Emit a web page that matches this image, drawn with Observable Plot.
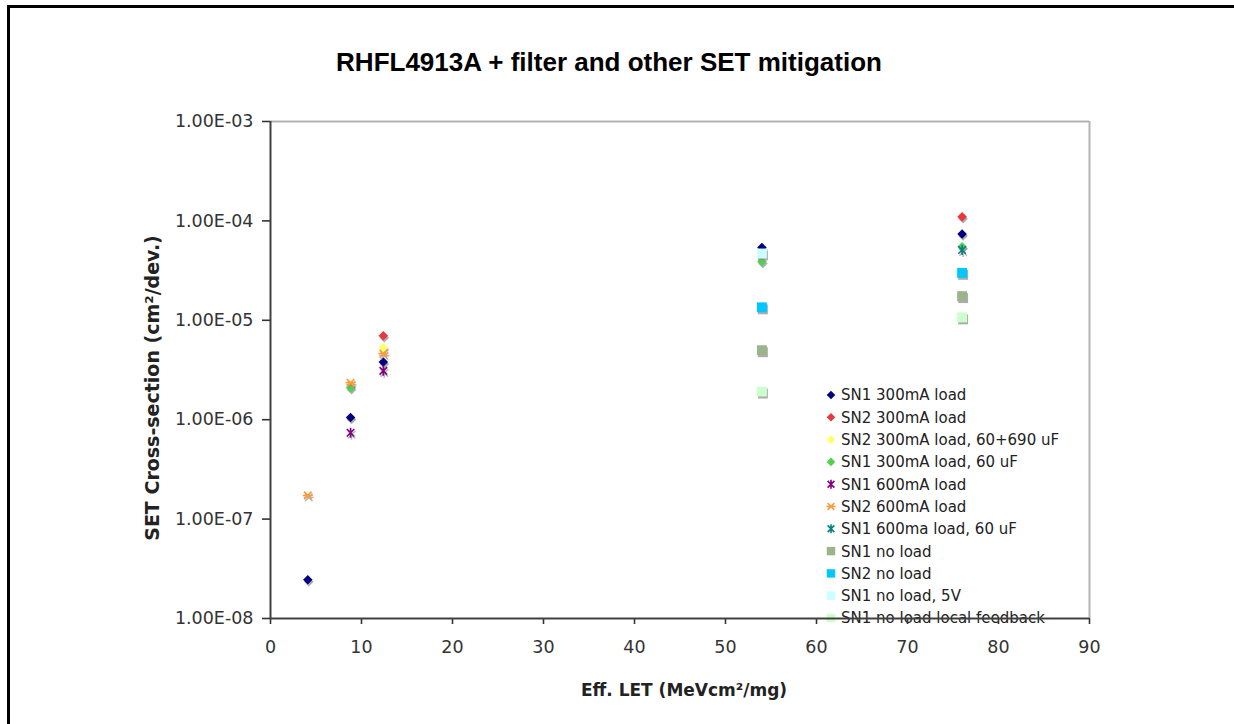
<!DOCTYPE html>
<html><head><meta charset="utf-8">
<script src="https://cdn.jsdelivr.net/npm/d3@7"></script>
<script src="https://cdn.jsdelivr.net/npm/@observablehq/plot@0.6"></script>
<style>
body{margin:0;background:#fff}
#wrap{position:relative;width:1234px;height:724px;overflow:hidden;background:#fff}
#frame{position:absolute;left:7px;top:5px;right:-10px;bottom:-10px;border-left:3px solid #000;border-top:3px solid #000}
#under{position:absolute;left:0;top:0}
#plot{position:absolute;left:0;top:0}
#plot svg{background:transparent}
[aria-label$="axis tick"]{stroke-width:1.6}
.tick line{stroke-width:1.6}
</style></head>
<body><div id="wrap"><div id="frame"></div><svg id="under" width="1234" height="724"></svg><div id="plot"></div></div>
<script>
// ---- data ----
const chartTitle = "RHFL4913A + filter and other SET mitigation";
const xLabel = "Eff. LET (MeVcm²/mg)";
const yLabel = "SET Cross-section (cm²/dev.)";
const xTicks = [0, 10, 20, 30, 40, 50, 60, 70, 80, 90];
const yTicks = [1e-8, 1e-7, 1e-6, 1e-5, 1e-4, 1e-3];
const seriesNames = [
  "SN1 300mA load", "SN2 300mA load", "SN2 300mA load, 60+690 uF", "SN1 300mA load, 60 uF",
  "SN1 600mA load", "SN2 600mA load", "SN1 600ma load, 60 uF", "SN1 no load", "SN2 no load",
  "SN1 no load, 5V", "SN1 no load local feedback"
];
const seriesColors = ["#000080", "#e8383d", "#ffff66", "#4fd34f", "#800080", "#ff9a3c", "#008080",
  "#9bb48a", "#00c8ff", "#ccffff", "#ccffcc"];
const seriesMarkers = ["diamond", "diamond", "diamond", "diamond", "xv", "xh", "xv",
  "square", "square", "square", "square"];
const seriesX = [
  [4.1, 8.8, 12.4, 54, 76],
  [12.4, 76],
  [8.8, 12.4],
  [8.8, 54, 76],
  [8.8, 12.4],
  [4.1, 8.8, 12.4],
  [76],
  [54, 76],
  [54, 76],
  [54],
  [54, 76]
];
const seriesY = [
  [2.45e-8, 1.05e-6, 3.8e-6, 5.4e-5, 7.4e-5],
  [7.0e-6, 1.1e-4],
  [2.25e-6, 5.3e-6],
  [2.1e-6, 3.9e-5, 5.5e-5],
  [7.4e-7, 3.1e-6],
  [1.73e-7, 2.35e-6, 4.6e-6],
  [5.1e-5],
  [5.0e-6, 1.75e-5],
  [1.35e-5, 3.0e-5],
  [4.7e-5],
  [1.92e-6, 1.07e-5]
];

// ---- symbols ----
const diamondSym = {draw(ctx, size) { const r = Math.sqrt(size / 2);
  ctx.moveTo(0, -r); ctx.lineTo(r, 0); ctx.lineTo(0, r); ctx.lineTo(-r, 0); ctx.closePath(); }};
const squareSym = {draw(ctx, size) { const h = Math.sqrt(size) / 2;
  ctx.rect(-h, -h, 2 * h, 2 * h); }};
const xvSym = {draw(ctx, size) { const r = Math.sqrt(size / Math.PI); const a = r * 0.75;
  ctx.moveTo(-a, -a); ctx.lineTo(a, a); ctx.moveTo(a, -a); ctx.lineTo(-a, a);
  ctx.moveTo(0, -r); ctx.lineTo(0, r); }};
const xhSym = {draw(ctx, size) { const r = Math.sqrt(size / Math.PI); const a = r * 0.75;
  ctx.moveTo(-a, -a); ctx.lineTo(a, a); ctx.moveTo(a, -a); ctx.lineTo(-a, a);
  ctx.moveTo(-r, 0); ctx.lineTo(r, 0); }};
const symMap = {diamond: diamondSym, square: squareSym, xv: xvSym, xh: xhSym};
const rMap = {diamond: 3.8, square: 5.6, xv: 5, xh: 5};
const isStroke = m => m === "xv" || m === "xh";

const fmtE = d => { const e = Math.round(Math.log10(d));
  return "1.00E" + (e < 0 ? "-" : "+") + String(Math.abs(e)).padStart(2, "0"); };

const marks = [
  Plot.ruleY([1e-3], {stroke: "#b4b4b4", strokeWidth: 2}),
  Plot.ruleX([90], {stroke: "#b4b4b4", strokeWidth: 2}),
  Plot.ruleX([0], {stroke: "#404040", strokeWidth: 2}),
  Plot.ruleY([1e-8], {stroke: "#404040", strokeWidth: 2})
];
seriesNames.forEach((name, i) => {
  const data = seriesX[i].map((x, j) => ({x, y: seriesY[i][j]}));
  const m = seriesMarkers[i];
  const base = {x: "x", y: "y", symbol: symMap[m], r: rMap[m]};
  if (isStroke(m)) {
    marks.push(Plot.dot(data, {...base, fill: "none", stroke: "#8a8a8a", strokeOpacity: 0.6, strokeWidth: 1.6, dx: 1, dy: 2}));
    marks.push(Plot.dot(data, {...base, fill: "none", stroke: seriesColors[i], strokeWidth: 1.6}));
  } else {
    marks.push(Plot.dot(data, {...base, fill: "#8a8a8a", fillOpacity: 0.7, stroke: "none", dx: 1, dy: 2}));
    marks.push(Plot.dot(data, {...base, fill: seriesColors[i], stroke: "none"}));
  }
});

const chart = Plot.plot({
  width: 1234, height: 724,
  marginLeft: 270, marginRight: 145, marginTop: 121, marginBottom: 106,
  style: {fontFamily: "DejaVu Sans", fontSize: "17.5px", color: "#333", background: "transparent"},
  x: {domain: [0, 90], ticks: xTicks, tickSize: 6, tickPadding: 16, label: null},
  y: {type: "log", domain: [1e-8, 1e-3], ticks: yTicks, tickFormat: fmtE, tickSize: 8, tickPadding: 9, label: null},
  marks
});
document.getElementById("plot").appendChild(chart);

// ---- text overlay + legend (under the plot svg) ----
const u = d3.select("#under");
u.append("text").attr("x", 609).attr("y", 71).attr("text-anchor", "middle")
  .attr("font-family", "Liberation Sans").attr("font-weight", "bold").attr("font-size", 26)
  .attr("fill", "#000").text(chartTitle);
u.append("text").attr("x", 684).attr("y", 696).attr("text-anchor", "middle")
  .attr("font-family", "DejaVu Sans").attr("font-weight", "bold").attr("font-size", 17)
  .attr("fill", "#222").text(xLabel);
u.append("text").attr("transform", "translate(159,388) rotate(-90)").attr("text-anchor", "middle")
  .attr("font-family", "DejaVu Sans").attr("font-weight", "bold").attr("font-size", 19)
  .attr("fill", "#222").text(yLabel);

const lg = u.append("g");
seriesNames.forEach((name, i) => {
  const y = 395 + i * 22.3;
  const m = seriesMarkers[i];
  const r = rMap[m] * (m === "square" ? 0.85 : 0.9);
  const p = d3.path(); symMap[m].draw(p, Math.PI * r * r);
  const g = lg.append("g").attr("transform", `translate(831,${y})`);
  if (isStroke(m)) g.append("path").attr("d", p.toString()).attr("fill", "none").attr("stroke", seriesColors[i]).attr("stroke-width", 1.6);
  else g.append("path").attr("d", p.toString()).attr("fill", seriesColors[i]);
  lg.append("text").attr("x", 841).attr("y", y).attr("dy", "0.36em")
    .attr("font-family", "DejaVu Sans").attr("font-size", 15).attr("fill", "#222").text(name);
});
</script></body></html>
